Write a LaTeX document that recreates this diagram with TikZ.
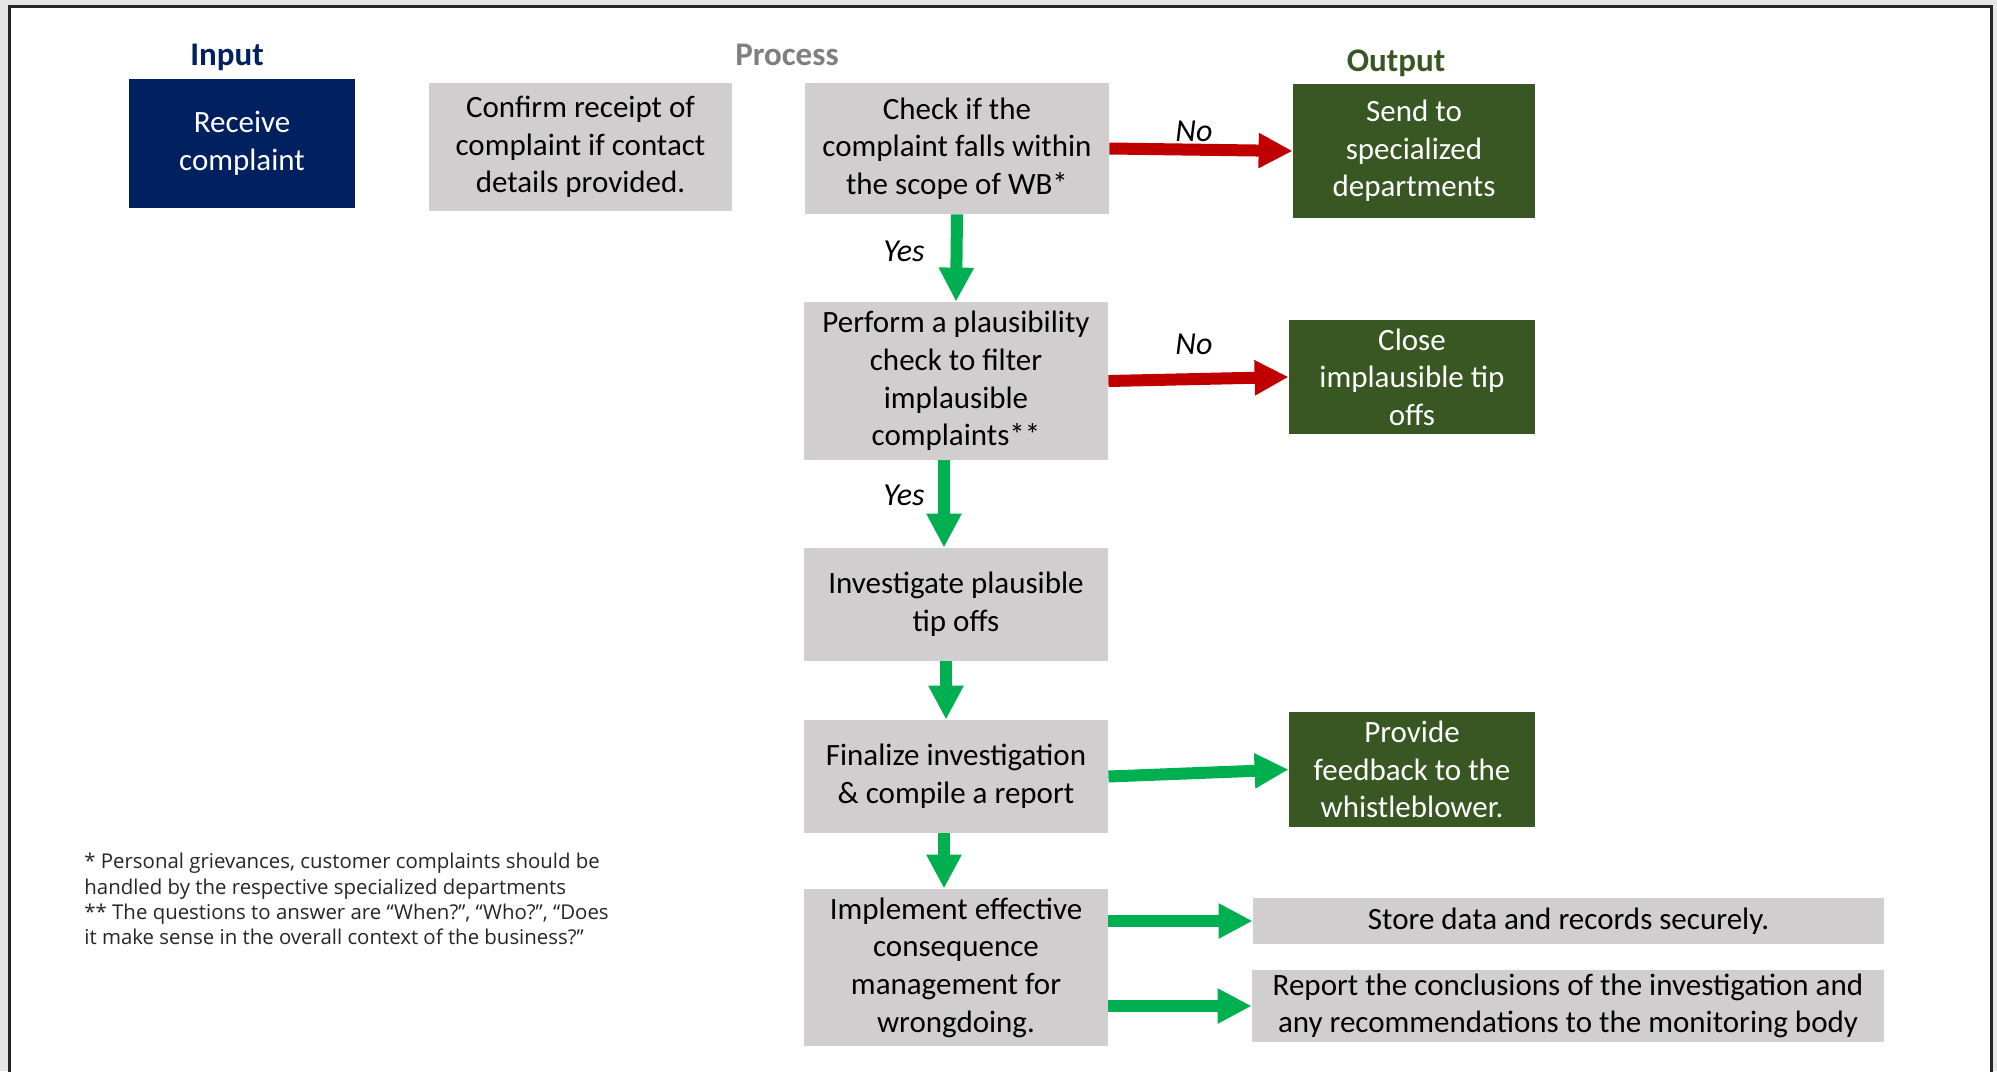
\documentclass[tikz,border=0pt]{standalone}
\usepackage{fontspec}
\setmainfont{Carlito}
\newfontfamily\notefont{Open Sans}
\usetikzlibrary{arrows.meta}
\definecolor{wbnavy}{HTML}{002060}
\definecolor{wbgray}{HTML}{D0CECE}
\definecolor{wbgreen}{HTML}{385723}
\definecolor{wbarrowgreen}{HTML}{00B050}
\definecolor{wbred}{HTML}{C00000}
\definecolor{wbtitlegray}{HTML}{7F7F7F}
\definecolor{wbpage}{HTML}{E6E6E6}
\definecolor{wbframe}{HTML}{262626}

\begin{document}
\begin{tikzpicture}[x=0.5pt,y=-0.5pt]
        \tikzstyle{box}=[rectangle, inner sep=0pt, align=center, font=\fontsize{15.5}{18.8}\selectfont]
        \tikzstyle{procbox}=[box, fill=wbgray, text=black]
        \tikzstyle{outbox}=[box, fill=wbgreen, text=white]
        \tikzstyle{inbox}=[box, fill=wbnavy, text=white]
        \tikzstyle{title}=[anchor=base, font=\fontsize{16.5}{20}\selectfont\bfseries]
        \tikzstyle{flow}=[line width=6pt, -{Triangle[length=17pt,width=16.5pt]}]
        \tikzstyle{yesflow}=[flow, wbarrowgreen]
        \tikzstyle{noflow}=[flow, wbred]
        \tikzstyle{answer}=[font=\fontsize{16}{19}\selectfont\itshape]
        \tikzstyle{note}=[anchor=north west, inner sep=0pt, align=left, text=wbframe, font=\notefont\fontsize{10.2}{12.6}\selectfont]

        \useasboundingbox (0,0) rectangle (1997,1071);
        \fill[wbpage] (0,0) rectangle (1997,1071);
        \draw[wbframe, line width=1.5pt, fill=white] (9,6) rectangle (1991,1110);

        \node[title, wbnavy] (inputhead) at (227,65) {Input};
        \node[title, wbtitlegray] (processhead) at (787,65) {Process};
        \node[title, wbgreen] (outputhead) at (1396,71) {Output};

        \node[inbox, minimum width=113pt, minimum height=64.5pt] (receive) at (242,143.5) {Receive\\complaint};
        \node[procbox, minimum width=151.5pt, minimum height=64pt] (confirm) at (580.5,147) {Confirm receipt of\\complaint if contact\\details provided.};
        \node[procbox, minimum width=152pt, minimum height=65.5pt] (check) at (957,148.5) {Check if the\\complaint falls within\\the scope of WB*};
        \node[outbox, minimum width=121pt, minimum height=67pt] (send) at (1414,151) {Send to\\specialized\\departments};
        \node[procbox, minimum width=152pt, minimum height=79pt] (perform) at (956,381) {Perform a plausibility\\check to filter\\implausible\\complaints**};
        \node[outbox, minimum width=123pt, minimum height=57pt] (close) at (1412,377) {Close\\implausible tip\\offs};
        \node[procbox, minimum width=152pt, minimum height=56.5pt] (investigate) at (956,604.5) {Investigate plausible\\tip offs};
        \node[procbox, minimum width=152pt, minimum height=56.5pt] (finalize) at (956,776.5) {Finalize investigation\\\& compile a report};
        \node[outbox, minimum width=123pt, minimum height=57.5pt] (provide) at (1412,769.5) {Provide\\feedback to the\\whistleblower.};
        \node[procbox, minimum width=152pt, minimum height=78.5pt] (implement) at (956,967.5) {Implement effective\\consequence\\management for\\wrongdoing.};
        \node[procbox, minimum width=315.5pt, minimum height=23pt] (store) at (1568.5,921) {Store data and records securely.};
        \node[procbox, minimum width=316pt, minimum height=36pt] (report) at (1568,1006) {Report the conclusions of the investigation and\\any recommendations to the monitoring body};

        \draw[noflow] (check.east) -- (send.west);
        \draw[noflow] (perform.east) -- (close.west);
        \draw[yesflow] (check.south) -- (perform.north);
        \draw[yesflow] ([xshift=-6pt]perform.south) -- ([xshift=-6pt]investigate.north);
        \draw[yesflow] ([xshift=-5pt]investigate.south) -- ([xshift=-5pt]finalize.north);
        \draw[yesflow] (finalize.east) -- (provide.west);
        \draw[yesflow] ([xshift=-6pt]finalize.south) -- ([xshift=-6pt]implement.north);
        \draw[yesflow] (implement.east |- store.west) -- (store.west);
        \draw[yesflow] (implement.east |- report.west) -- (report.west);

        \node[answer] (nofirst) at (1194,131) {No};
        \node[answer] (nosecond) at (1194,344) {No};
        \node[answer] (yesfirst) at (904,251) {Yes};
        \node[answer] (yessecond) at (904,495) {Yes};

        \node[note] (footnote) at (84,853) {* Personal grievances, customer complaints should be\\handled by the respective specialized departments\\** The questions to answer are “When?”, “Who?”, “Does\\it make sense in the overall context of the business?”};
\end{tikzpicture}
\end{document}
